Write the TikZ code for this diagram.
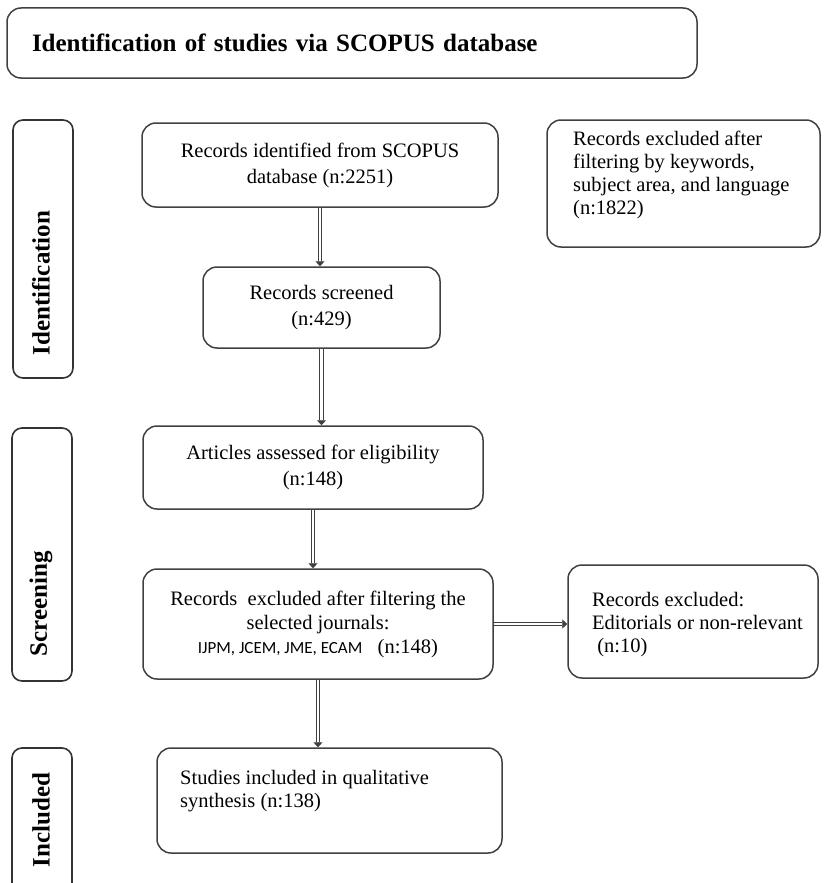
\documentclass[tikz,border=0pt]{standalone}
\usepackage{fontspec}
\setmainfont{Liberation Serif}
\newfontfamily\calibri{Carlito}
\usetikzlibrary{arrows.meta}

\begin{document}
\begin{tikzpicture}[x=1pt,y=-1pt,
    box/.style={draw=black!75, line width=1.5pt, rounded corners=14pt, inner sep=0pt, align=center,
        font=\fontsize{20.5}{26}\selectfont},
    sidebox/.style={draw=black!80, line width=1.6pt, rounded corners=10pt, minimum width=60pt},
    sidelabel/.style={rotate=90, font=\fontsize{25}{28}\selectfont\bfseries},
    boxtext/.style={anchor=west, align=left, inner sep=0pt, font=\fontsize{20.5}{23}\selectfont},
    dbl/.style={draw=black!75, double=white, double distance=2.4pt, line width=0.9pt,
        -{Triangle[length=5pt,width=9pt]}}]
    \clip (0,0) rectangle (823,883);
    % title
    \node[box, minimum width=690pt, minimum height=70pt, text width=640pt, align=left,
        font=\fontsize{25}{28}\selectfont\bfseries] (title) at (352,43)
        {Identification of studies via SCOPUS database};

    % stages
    \node[sidebox, minimum height=258pt] (idbox) at (43,249) {};
    \node[sidelabel] (idlabel) at (41,283) {Identification};
    \node[sidebox, minimum height=253pt] (scbox) at (42,554.5) {};
    \node[sidelabel] (sclabel) at (41,604) {Screening};
    \node[sidebox, minimum height=172pt] (inbox) at (42,834) {};
    \node[sidelabel] (inlabel) at (41,820) {Included};

    % identification
    \node[box, minimum width=356pt, minimum height=84pt] (found) at (320,165)
        {Records identified from SCOPUS\\database (n:2251)};
    \node[box, minimum width=237pt, minimum height=81pt] (screened) at (321.5,307.5)
        {Records screened\\(n:429)};
    \node[box, minimum width=273pt, minimum height=127pt] (kwout) at (683.5,183.5) {};
    \node[boxtext] (kwtext) at (573,175)
        {Records excluded after\\filtering by keywords,\\subject area, and language\\(n:1822)};

    % screening
    \node[box, minimum width=340pt, minimum height=83pt] (assessed) at (313,467.5)
        {Articles assessed for eligibility\\(n:148)};
    \node[box, minimum width=350pt, minimum height=110pt, font=\fontsize{20.5}{24}\selectfont] (journals) at (318,624)
        {Records\enspace excluded after filtering the\\selected journals:\\
        {\calibri\fontsize{17}{24}\selectfont IJPM, JCEM, JME, ECAM}\enspace\ (n:148)};
    \node[box, minimum width=250pt, minimum height=113pt] (edout) at (693,621.5) {};
    \node[boxtext] (edtext) at (592,625)
        {Records excluded:\\Editorials or non-relevant\\\ (n:10)};

    % included
    \node[box, minimum width=345pt, minimum height=105pt] (studies) at (329.5,800.5) {};
    \node[boxtext] (sttext) at (180,791)
        {Studies included in qualitative\\synthesis (n:138)};

    % arrows
    \draw[dbl] (found.south) -- (found.south |- screened.north);
    \draw[dbl] (screened.south) -- (screened.south |- assessed.north);
    \draw[dbl] (assessed.south) -- (assessed.south |- journals.north);
    \draw[dbl] (journals.east) -- (journals.east -| edout.west);
    \draw[dbl] (journals.south) -- (journals.south |- studies.north);
\end{tikzpicture}
\end{document}
